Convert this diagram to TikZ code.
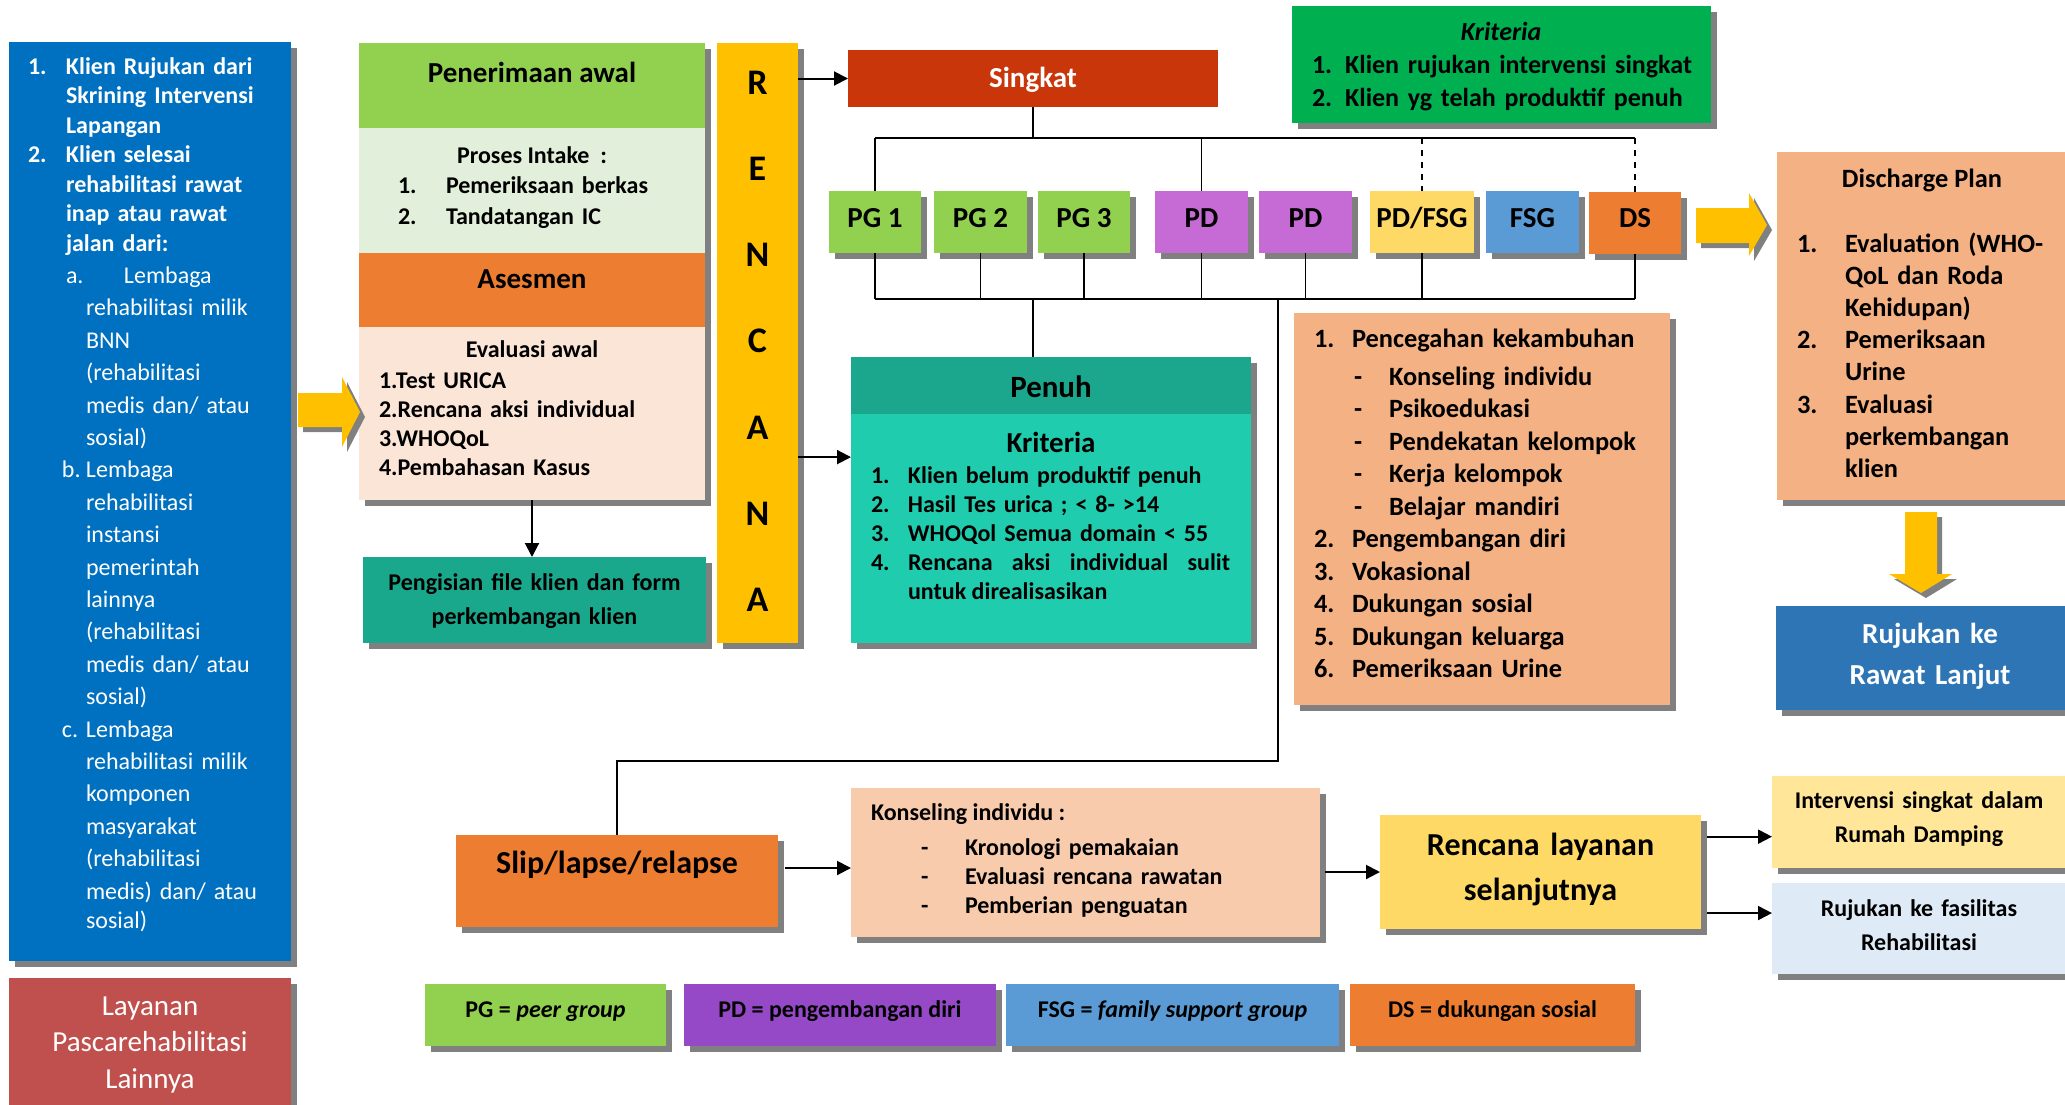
\documentclass[tikz,border=0pt]{standalone}
\usepackage{fontspec}
\setmainfont{Carlito}
\usetikzlibrary{arrows.meta,fit,shadows,calc}

\definecolor{cblue}{HTML}{0070C0}
\definecolor{cred}{HTML}{C0504D}
\definecolor{cgreen}{HTML}{92D050}
\definecolor{cltgreen}{HTML}{E2EFDA}
\definecolor{corange}{HTML}{ED7D31}
\definecolor{cpink}{HTML}{FBE5D6}
\definecolor{cteal}{HTML}{1AA88C}
\definecolor{cyellow}{HTML}{FFC000}
\definecolor{csingkat}{HTML}{C9360A}
\definecolor{ckrit}{HTML}{00B050}
\definecolor{corchid}{HTML}{C66BD5}
\definecolor{cgold}{HTML}{FFD966}
\definecolor{cfsg}{HTML}{5B9BD5}
\definecolor{cpeach}{HTML}{F4B183}
\definecolor{cnavy}{HTML}{2E75B6}
\definecolor{cskin}{HTML}{F8CBAD}
\definecolor{clightgold}{HTML}{FFE699}
\definecolor{cpaleblue}{HTML}{DEEBF7}
\definecolor{cpurple}{HTML}{9549C6}
\definecolor{cturq}{HTML}{20CCAE}
\definecolor{cpenuhhead}{HTML}{1BA78D}
\definecolor{shadowgray}{HTML}{808080}

\newcommand\myfs[2]{\fontsize{#1}{#2}\selectfont}

\begin{document}
\begin{tikzpicture}[x=0.5pt,y=-0.5pt,
  box/.style={inner sep=0pt,outer sep=0pt,draw=none},
  shd/.style={general shadow={fill=shadowgray,shadow xshift=3pt,shadow yshift=-3pt}},
  txt/.style={inner sep=0pt,outer sep=0pt,font=\bfseries\myfs{12}{14.5}},
  conn/.style={line width=0.8pt,draw=black},
  arr/.style={line width=1pt,draw=black,-{Triangle[length=7pt,width=7pt]}},
  bigy/.style={fill=cyellow,draw=none},
  bigs/.style={fill=shadowgray,draw=none}]

\useasboundingbox (0,0) rectangle (2065,1104);
\fill[white] (0,0) rectangle (2065,1104);

% ---------- boxes ----------
\node[box,shd,fill=cblue,fit={(9,42) (291,961)}] (blue) {};
\node[box,shd,fill=cred,fit={(9,978) (291,1130)}] (red) {};

\node[box,shd,fill=white,fit={(359,43) (705,500)}] (pacol) {};
\node[box,fill=cgreen,fit={(359,43) (705,128)}] (pa) {};
\node[box,fill=cltgreen,fit={(359,128) (705,253)}] (intake) {};
\node[box,fill=corange,fit={(359,253) (705,327)}] (ases) {};
\node[box,fill=cpink,fit={(359,327) (705,500)}] (eval) {};
\node[box,shd,fill=cteal,fit={(363,557) (706,643)}] (peng) {};
\node[box,shd,fill=cyellow,fit={(717,43) (798,643)}] (ren) {};

\node[box,fill=csingkat,fit={(848,50) (1218,107)}] (sing) {};
\node[box,shd,fill=ckrit,fit={(1292,6) (1711,123)}] (krit) {};

\node[box,shd,fill=cgreen,fit={(829,191) (921,253)}] (pg1) {};
\node[box,shd,fill=cgreen,fit={(934,191) (1027,253)}] (pg2) {};
\node[box,shd,fill=cgreen,fit={(1038,191) (1130,253)}] (pg3) {};
\node[box,shd,fill=corchid,fit={(1155,191) (1248,253)}] (pd1) {};
\node[box,shd,fill=corchid,fit={(1259,191) (1352,253)}] (pd2) {};
\node[box,shd,fill=cgold,fit={(1370,191) (1474,253)}] (pdfsg) {};
\node[box,shd,fill=cfsg,fit={(1486,191) (1579,253)}] (fsg) {};
\node[box,shd,fill=corange,fit={(1589,192) (1681,254)}] (ds) {};

\node[box,shd,fill=cturq,fit={(851,357) (1251,643)}] (penuh) {};
\node[box,fill=cpenuhhead,fit={(851,357) (1251,414)}] (penuhhd) {};

\node[box,shd,fill=cpeach,fit={(1294,313) (1670,705)}] (olist) {};
\node[box,shd,fill=cpeach,fit={(1777,152) (2090,500)}] (dis) {};
\node[box,shd,fill=cnavy,fit={(1776,606) (2090,710)}] (rawat) {};

\node[box,shd,fill=corange,fit={(456,835) (778,927)}] (slip) {};
\node[box,shd,fill=cskin,fit={(851,788) (1320,937)}] (konsel) {};
\node[box,shd,fill=cgold,fit={(1380,815) (1701,929)}] (rl) {};
\node[box,shd,fill=clightgold,fit={(1772,776) (2090,868)}] (iv) {};
\node[box,shd,fill=cpaleblue,fit={(1772,883) (2090,974)}] (rf) {};

\node[box,shd,fill=cgreen,fit={(425,984) (666,1046)}] (lpg) {};
\node[box,shd,fill=cpurple,fit={(684,984) (996,1046)}] (lpd) {};
\node[box,shd,fill=cfsg,fit={(1006,984) (1339,1046)}] (lfsg) {};
\node[box,shd,fill=corange,fit={(1350,984) (1635,1046)}] (lds) {};

% ---------- big yellow arrows ----------
\begin{scope}[shift={(5,5)}]
\fill[bigs] (298,393) -- (342,393) -- (342,377) -- (360,412) -- (342,447) -- (342,427) -- (298,427) -- cycle;
\fill[bigs] (1696,208) -- (1749,208) -- (1749,193) -- (1767,225) -- (1749,256) -- (1749,243) -- (1696,243) -- cycle;
\fill[bigs] (1905,512) -- (1937,512) -- (1937,574) -- (1952,574) -- (1921,593) -- (1889,574) -- (1905,574) -- cycle;
\end{scope}
\fill[bigy] (298,393) -- (342,393) -- (342,377) -- (360,412) -- (342,447) -- (342,427) -- (298,427) -- cycle;
\fill[bigy] (1696,208) -- (1749,208) -- (1749,193) -- (1767,225) -- (1749,256) -- (1749,243) -- (1696,243) -- cycle;
\fill[bigy] (1905,512) -- (1937,512) -- (1937,574) -- (1952,574) -- (1921,593) -- (1889,574) -- (1905,574) -- cycle;

% ---------- connectors ----------
\coordinate (topy) at (0,138);
\coordinate (boty) at (0,299);
\coordinate (sliply) at (0,761);
\coordinate (sj) at (1278,299);

\draw[conn] (sing.south) -- (sing.south |- topy);
\draw[conn] (pg1.north |- topy) -- (ds.north |- topy);
\draw[conn] (pg1.north |- topy) -- (pg1.north);
\draw[conn] (pd1.north |- topy) -- (pd1.north);
\draw[conn,dash pattern=on 3pt off 3pt] (pdfsg.north |- topy) -- (pdfsg.north);
\draw[conn,dash pattern=on 3pt off 3pt] (ds.north |- topy) -- (ds.north);

\draw[conn] (pg1.south |- boty) -- (ds.south |- boty);
\foreach \b in {pg1,pg2,pg3,pd1,pd2,pdfsg,ds}
  \draw[conn] (\b.south) -- (\b.south |- boty);
\draw[conn] (sing.south |- boty) -- (sing.south |- penuh.north);
\draw[conn] (sj) -- (sj |- sliply) -- (slip.north |- sliply) -- (slip.north);

\draw[arr] (sing.west -| ren.east) -- (sing.west);
\coordinate (pn) at ($(penuh.north west)!0.35!(penuh.south west)$);
\draw[arr] (ren.east |- pn) -- (pn);
\draw[arr] (eval.south) -- (eval.south |- peng.north);

\coordinate (sk) at ($(slip.east)+(0,-13)$);
\draw[arr] ([xshift=3.5pt]sk) -- (sk -| konsel.west);
\draw[arr] ([xshift=2.5pt]konsel.east |- rl.west) -- (rl.west);
\coordinate (r1) at ($(rl.north east)!0.19!(rl.south east)$);
\coordinate (r2) at ($(rl.north east)!0.86!(rl.south east)$);
\draw[arr] ([xshift=3pt]r1) -- (r1 -| iv.west);
\draw[arr] ([xshift=3pt]r2) -- (r2 -| rf.west);

% ---------- texts ----------
\node[txt,anchor=base west,text width=140pt,align=left,text=white] (bluetxt) at (28,74) {%
\myfs{12}{14.75}%
\makebox[19pt][l]{1.}Klien Rujukan dari\\
\hspace*{19pt}Skrining Intervensi\\
\hspace*{19pt}Lapangan\\
\makebox[19pt][l]{2.}Klien selesai\\
\hspace*{19pt}rehabilitasi rawat\\
\hspace*{19pt}inap atau rawat\\
\hspace*{19pt}jalan dari:\par
\mdseries\myfs{12}{16.2}%
\hspace*{19pt}\makebox[29pt][l]{a.}Lembaga\\
\hspace*{29pt}rehabilitasi milik\\
\hspace*{29pt}BNN\\
\hspace*{29pt}(rehabilitasi\\
\hspace*{29pt}medis dan/ atau\\
\hspace*{29pt}sosial)\\
\hspace*{17pt}\makebox[12pt][l]{b.}Lembaga\\
\hspace*{29pt}rehabilitasi\\
\hspace*{29pt}instansi\\
\hspace*{29pt}pemerintah\\
\hspace*{29pt}lainnya\\
\hspace*{29pt}(rehabilitasi\\
\hspace*{29pt}medis dan/ atau\\
\hspace*{29pt}sosial)\\
\hspace*{17pt}\makebox[12pt][l]{c.}Lembaga\\
\hspace*{29pt}rehabilitasi milik\\
\hspace*{29pt}komponen\\
\hspace*{29pt}masyarakat\\
\hspace*{29pt}(rehabilitasi\\
\hspace*{29pt}medis) dan/ atau\\
\hspace*{29pt}sosial)};

\node[txt,anchor=base,text width=135pt,align=center,text=white,font=\mdseries\myfs{14.5}{18.25}] (redtxt) at (150,1015) {Layanan\\Pascarehabilitasi\\Lainnya};

\node[txt,anchor=base,font=\bfseries\myfs{14.5}{17}] (tpa) at (532,82) {Penerimaan awal};
\node[txt,anchor=base] (tproses) at (532,163) {Proses Intake\ \ :};
\node[txt,anchor=base west,text width=140pt,align=left,font=\bfseries\myfs{12}{15.5}] (tint) at (398,193) {\makebox[24pt][l]{1.}Pemeriksaan berkas\\\makebox[24pt][l]{2.}Tandatangan IC};
\node[txt,anchor=base,font=\bfseries\myfs{14.5}{17}] (tases) at (532,288) {Asesmen};
\node[txt,anchor=base] (teval) at (532,357) {Evaluasi awal};
\node[txt,anchor=base west,text width=150pt,align=left] (tevi) at (379,388) {1.Test URICA\\2.Rencana aksi individual\\3.WHOQoL\\4.Pembahasan Kasus};
\node[txt,anchor=base,text width=170pt,align=center,font=\bfseries\myfs{12}{17}] (tpeng) at (534.5,590) {Pengisian file klien dan form\\perkembangan klien};

\node[txt,anchor=base,text width=30pt,align=center,font=\bfseries\myfs{18}{43.15}] (tren) at (757.5,94) {R\\E\\N\\C\\A\\N\\A};

\node[txt,anchor=base,text=white,font=\bfseries\myfs{14.5}{17}] (tsing) at (1033,87) {Singkat};

\node[txt,anchor=base,font=\bfseries\itshape\myfs{13}{16.5}] (tkrit) at (1501,40) {Kriteria};
\node[txt,anchor=base west,text width=205pt,align=left,font=\bfseries\myfs{13}{16.5}] (tkriti) at (1312,73) {1. Klien rujukan intervensi singkat\\2. Klien yg telah produktif penuh};

\coordinate (laby) at (0,227);
\node[txt,anchor=base,font=\bfseries\myfs{14.5}{17}] (tpg1) at (pg1.center |- laby) {PG 1};
\node[txt,anchor=base,font=\bfseries\myfs{14.5}{17}] (tpg2) at (pg2.center |- laby) {PG 2};
\node[txt,anchor=base,font=\bfseries\myfs{14.5}{17}] (tpg3) at (pg3.center |- laby) {PG 3};
\node[txt,anchor=base,font=\bfseries\myfs{14.5}{17}] (tpd1) at (pd1.center |- laby) {PD};
\node[txt,anchor=base,font=\bfseries\myfs{14.5}{17}] (tpd2) at (pd2.center |- laby) {PD};
\node[txt,anchor=base,font=\bfseries\myfs{14.5}{17}] (tpdfsg) at (pdfsg.center |- laby) {PD/FSG};
\node[txt,anchor=base,font=\bfseries\myfs{14.5}{17}] (tfsg) at (fsg.center |- laby) {FSG};
\node[txt,anchor=base,font=\bfseries\myfs{14.5}{17}] (tds) at (ds.center |- laby) {DS};

\node[txt,anchor=base,font=\bfseries\myfs{15.5}{18}] (tpenuh) at (1051,397) {Penuh};
\node[txt,anchor=base,font=\bfseries\myfs{14.5}{17}] (tpk) at (1051,452) {Kriteria};
\node[txt,anchor=base west,text width=179.5pt,align=left] (tpki) at (871,483) {%
\makebox[18.5pt][l]{1.}Klien belum produktif penuh\\
\makebox[18.5pt][l]{2.}Hasil Tes urica ; < 8- >14\\
\makebox[18.5pt][l]{3.}WHOQol Semua domain < 55\\
\makebox[18.5pt][l]{4.}};
\node[txt,anchor=base west,text width=161pt,align=justify] (tpk4) at (908,570) {%
\hyphenpenalty=10000\exhyphenpenalty=10000 Rencana aksi individual sulit \mbox{untuk} \mbox{direalisasikan}\par};

\node[txt,anchor=base west,text width=175pt,align=left,font=\bfseries\myfs{13.2}{16.25}] (tol) at (1314,347) {%
\makebox[19pt][l]{1.}Pencegahan kekambuhan\\[2.75pt]
\hspace*{20pt}\makebox[17.5pt][l]{-}Konseling individu\\
\hspace*{20pt}\makebox[17.5pt][l]{-}Psikoedukasi\\
\hspace*{20pt}\makebox[17.5pt][l]{-}Pendekatan kelompok\\
\hspace*{20pt}\makebox[17.5pt][l]{-}Kerja kelompok\\
\hspace*{20pt}\makebox[17.5pt][l]{-}Belajar mandiri\\
\makebox[19pt][l]{2.}Pengembangan diri\\
\makebox[19pt][l]{3.}Vokasional\\
\makebox[19pt][l]{4.}Dukungan sosial\\
\makebox[19pt][l]{5.}Dukungan keluarga\\
\makebox[19pt][l]{6.}Pemeriksaan Urine};

\node[txt,anchor=base,font=\bfseries\myfs{13.2}{16}] (tdis) at (1922,187) {Discharge Plan};
\node[txt,anchor=base west,text width=135pt,align=left,font=\bfseries\myfs{13.2}{16.1}] (tdisi) at (1797,252) {%
\makebox[24pt][l]{1.}Evaluation (WHO-\\
\hspace*{24pt}QoL dan Roda\\
\hspace*{24pt}Kehidupan)\\
\makebox[24pt][l]{2.}Pemeriksaan\\
\hspace*{24pt}Urine\\
\makebox[24pt][l]{3.}Evaluasi\\
\hspace*{24pt}perkembangan\\
\hspace*{24pt}klien};

\node[txt,anchor=base,text width=140pt,align=center,text=white,font=\bfseries\myfs{14.5}{20.5}] (trawat) at (1930,643) {Rujukan ke\\Rawat Lanjut};

\node[txt,anchor=base,font=\bfseries\myfs{16}{19}] (tslip) at (617,873) {Slip/lapse/relapse};

\node[txt,anchor=base west] (tkons) at (871,820) {Konseling individu :};
\node[txt,anchor=base west,text width=170pt,align=left] (tkonsi) at (921,855) {%
\makebox[22pt][l]{-}Kronologi pemakaian\\
\makebox[22pt][l]{-}Evaluasi rencana rawatan\\
\makebox[22pt][l]{-}Pemberian penguatan};

\node[txt,anchor=base,text width=150pt,align=center,font=\bfseries\myfs{16}{22.5}] (trl) at (1540.5,855) {Rencana layanan\\selanjutnya};
\node[txt,anchor=base,text width=140pt,align=center,font=\bfseries\myfs{12}{17}] (tiv) at (1919,808) {Intervensi singkat dalam\\Rumah Damping};
\node[txt,anchor=base,text width=140pt,align=center,font=\bfseries\myfs{12}{17}] (trf) at (1919,916) {Rujukan ke fasilitas\\Rehabilitasi};

\coordinate (legy) at (0,1017);
\node[txt,anchor=base] (tlpg) at (lpg.center |- legy) {PG = \textit{peer group}};
\node[txt,anchor=base] (tlpd) at (lpd.center |- legy) {PD = pengembangan diri};
\node[txt,anchor=base] (tlfsg) at (lfsg.center |- legy) {FSG = \textit{family support group}};
\node[txt,anchor=base] (tlds) at (lds.center |- legy) {DS = dukungan sosial};

\end{tikzpicture}
\end{document}
